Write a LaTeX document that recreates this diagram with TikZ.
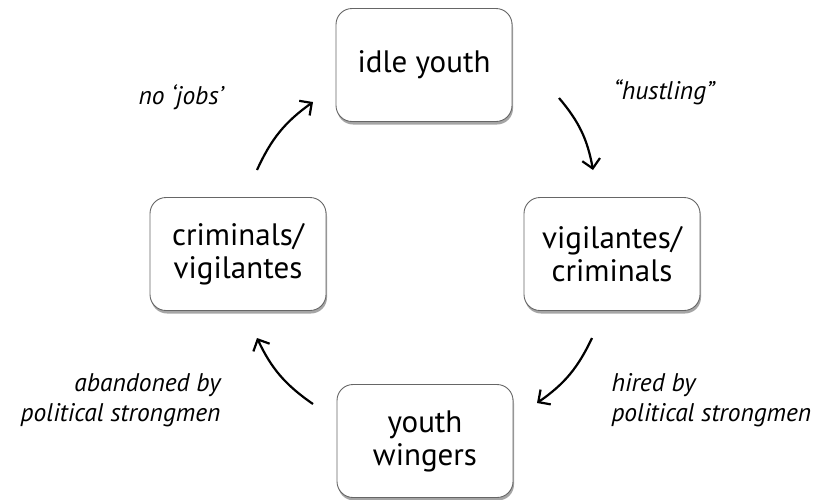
\documentclass[tikz,border=0pt]{standalone}
\usepackage{fontspec}
\setmainfont{PT Sans}
\usetikzlibrary{arrows.meta,shadows}

\begin{document}
\begin{tikzpicture}[x=1pt,y=-1pt,
  box/.style={draw=black!60,line width=0.9pt,rounded corners=16pt,fill=white,
    minimum width=176pt,minimum height=113pt,align=center,
    font=\fontsize{31}{33}\selectfont,
    drop shadow={shadow xshift=1pt,shadow yshift=-3pt,opacity=0.5,fill=black!70}},
  lbl/.style={font=\fontsize{25.5}{30}\selectfont\itshape},
  arr/.style={line width=2.2pt,-{Straight Barb[length=9pt,width=18pt,line width=2.2pt]}}]
  \useasboundingbox (0,0) rectangle (821,499);
  \node[box] (idle) at (424, 65) {idle youth};
  \node[box] (crim) at (238, 254) {criminals/\\vigilantes};
  \node[box] (vigi) at (612, 254) {vigilantes/\\criminals};
  \node[box] (wing) at (425, 441) {youth\\wingers};
  \node[lbl] (jobs) at (181, 97) {no ‘jobs’};
  \node[lbl] (hust) at (664, 92) {“hustling”};
  \node[lbl,align=right,anchor=east] (aban) at (224, 400) {abandoned by\\political strongmen};
  \node[lbl,align=left,anchor=west] (hire) at (608, 400) {hired by\\political strongmen};
  \coordinate (a1) at (257, 170);
  \coordinate (a2) at (313, 102);
  \coordinate (b1) at (559, 98);
  \coordinate (b2) at (593, 170);
  \coordinate (c1) at (592, 338);
  \coordinate (c2) at (537, 403);
  \coordinate (d1) at (313, 404);
  \coordinate (d2) at (257, 338);
  \draw[arr] (a1) to[bend left=15] (a2);
  \draw[arr] (b1) to[bend left=15] (b2);
  \draw[arr] (c1) to[bend left=15] (c2);
  \draw[arr] (d1) to[bend left=15] (d2);
\end{tikzpicture}
\end{document}
